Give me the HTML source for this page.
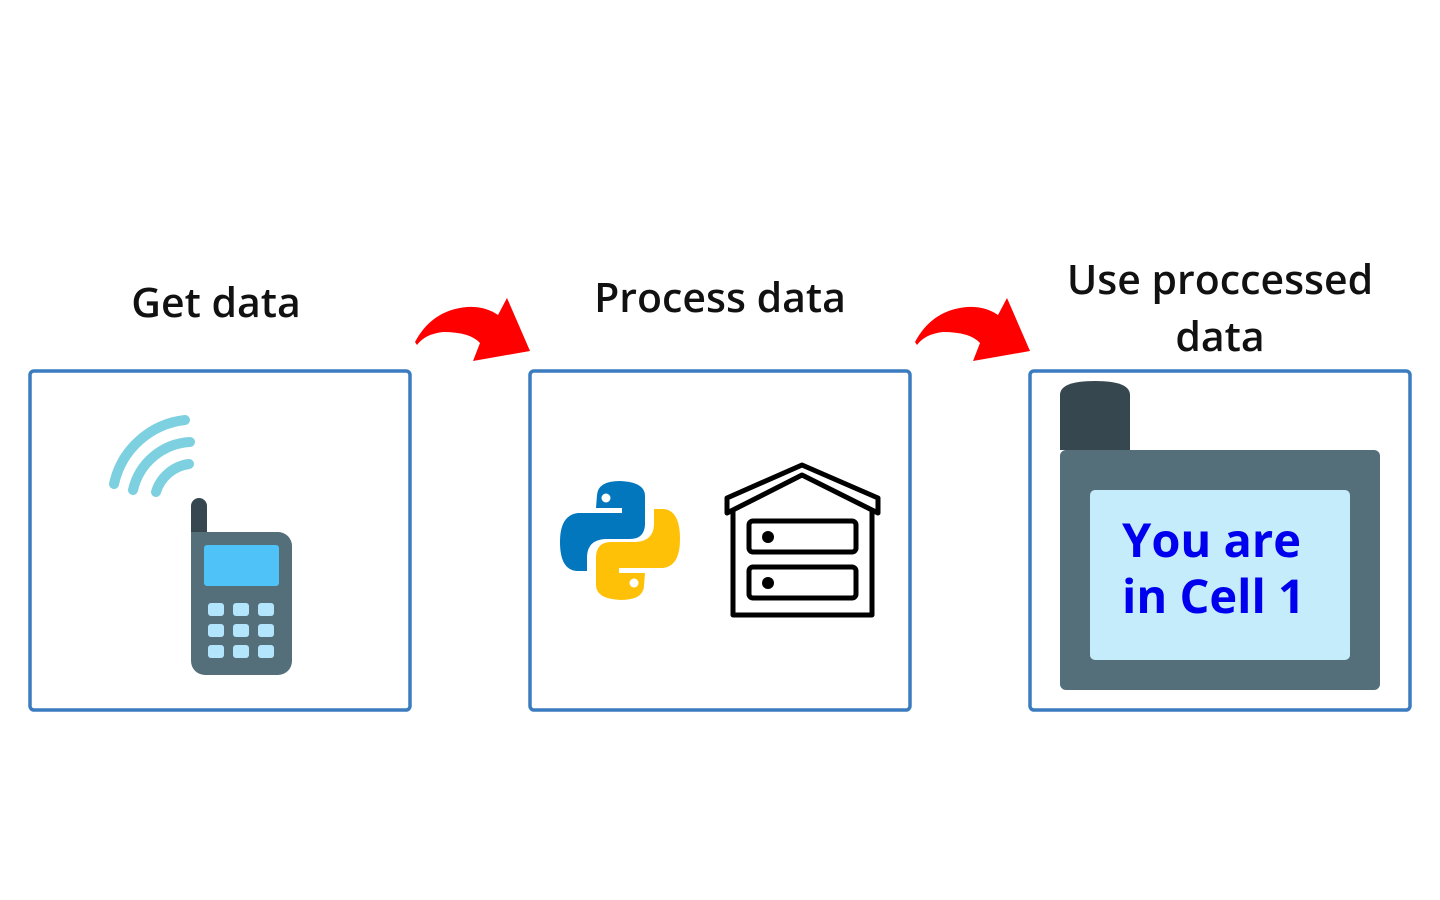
<!DOCTYPE html>
<html><head><meta charset="utf-8"><style>
body{margin:0;background:#fff;width:1440px;height:900px;overflow:hidden}
svg{display:block}
text{font-family:"Open Sans","DejaVu Sans","Liberation Sans",sans-serif}
</style></head><body>
<svg width="1440" height="900" viewBox="0 0 1440 900">
<g fill="none" stroke="#3b7cc0" stroke-width="3.5">
<rect x="30" y="371" width="380" height="339" rx="4"/>
<rect x="530" y="371" width="380" height="339" rx="4"/>
<rect x="1030" y="371" width="380" height="339" rx="4"/>
</g>
<g font-size="41" font-weight="600" fill="#111" text-anchor="middle">
<text x="216" y="317">Get data</text>
<text x="720" y="312">Process data</text>
<text x="1220" y="294">Use proccessed</text>
<text x="1220" y="351">data</text>
</g>
<!-- arrows -->
<g id="arr" fill="#ff0000">
<path d="M415,342 Q432,310 467,307 Q485,306 498,315 L507,298 L530,351 L473,361 L480,343 Q470,332 443,332 Q425,334 417,345 Z"/>
</g>
<use href="#arr" transform="translate(500,0)"/>
<!-- phone -->
<g fill="none" stroke="#7dd0df" stroke-width="10" stroke-linecap="round">
<path d="M114,484 A82,82 0 0 1 185,420"/>
<path d="M133,490 A62,62 0 0 1 190,442"/>
<path d="M156,492 A40,40 0 0 1 189,464"/>
</g>
<rect x="191" y="498" width="16" height="45" rx="8" fill="#37474f"/>
<rect x="191" y="532" width="101" height="143" rx="14" fill="#546e7a"/>
<rect x="191" y="532" width="16" height="14" fill="#546e7a"/>
<rect x="204" y="545" width="75" height="41" rx="3" fill="#4fc3f7"/>
<g fill="#b3e5fc">
<rect x="208" y="603" width="16" height="13" rx="3"/><rect x="233" y="603" width="16" height="13" rx="3"/><rect x="258" y="603" width="16" height="13" rx="3"/>
<rect x="208" y="624" width="16" height="13" rx="3"/><rect x="233" y="624" width="16" height="13" rx="3"/><rect x="258" y="624" width="16" height="13" rx="3"/>
<rect x="208" y="645" width="16" height="13" rx="3"/><rect x="233" y="645" width="16" height="13" rx="3"/><rect x="258" y="645" width="16" height="13" rx="3"/>
</g>
<!-- python -->
<path d="M620,481 Q598,481 597,495 L596,508 L622,508 L622,513 L578,513 Q560,515 560,542 Q560,570 577,571 L587,571 L587,556 Q588,540 605,539 L630,539 Q644,539 645,525 L645,496 Q645,482 620,481 Z" fill="#0277bd"/>
<circle cx="606" cy="498" r="4.5" fill="#fff"/>
<path d="M621,600 Q643,600 644,586 L645,573 L619,573 L619,568 L663,568 Q680,566 680,539 Q680,511 664,509 L654,509 L654,525 Q653,541 636,542 L611,542 Q597,542 596,556 L596,585 Q596,599 621,600 Z" fill="#ffc107"/>
<circle cx="634" cy="583" r="4.5" fill="#fff"/>
<!-- house -->
<g fill="none" stroke="#000" stroke-width="5" stroke-linejoin="round">
<path d="M727,513 L727,498 L802,465 L878,498 L878,513 L802,475 Z"/>
<path d="M733,510 L733,615 L872,615 L872,510"/>
<rect x="749" y="521" width="107" height="31" rx="4"/>
<rect x="749" y="567" width="107" height="31" rx="4"/>
</g>
<circle cx="768" cy="537" r="6" fill="#000"/>
<circle cx="768" cy="583" r="6" fill="#000"/>
<!-- device -->
<path d="M1060,450 L1060,395 Q1060,381 1095,381 Q1130,381 1130,395 L1130,450 Z" fill="#37474f"/>
<rect x="1060" y="450" width="320" height="240" rx="6" fill="#546e7a"/>
<rect x="1090" y="490" width="260" height="170" rx="5" fill="#c4ecfb"/>
<g font-size="47" font-weight="bold" fill="#0000ee">
<text x="1122" y="557">You are</text>
<text x="1122" y="613">in Cell 1</text>
</g>
</svg>
</body></html>
